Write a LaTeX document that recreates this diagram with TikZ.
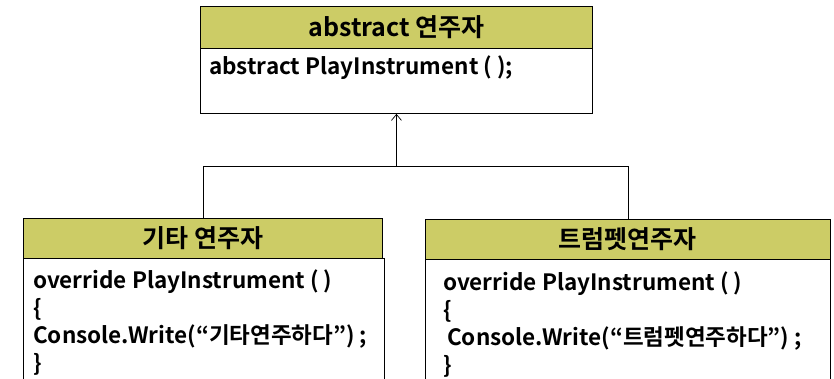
\documentclass[tikz,border=0pt]{standalone}
\usepackage{fontspec}
\setmainfont{Noto Sans CJK KR}[BoldFont={Noto Sans CJK KR Bold}]
\usetikzlibrary{arrows.meta}
\definecolor{band}{RGB}{204,204,102}
\tikzset{
  titlebox/.style={draw, line width=0.9pt, fill=band, anchor=north west, inner sep=0pt, font=\bfseries\fontsize{25}{28}\selectfont},
  framebox/.style={draw, line width=0.9pt, fill=white, anchor=north west, inner sep=0pt},
  code/.style={inner sep=0pt, align=left, font=\bfseries\fontsize{22.5}{27.5}\selectfont},
  link/.style={line width=0.7pt},
}
\begin{document}
\begin{tikzpicture}[x=1pt,y=-1pt]
\useasboundingbox (0,0) rectangle (834,379);
\clip (0,0) rectangle (834,379);
% top class
\node[titlebox, minimum width=392pt, minimum height=42pt] (topTitle) at (200,6) {abstract 연주자};
\node[framebox, minimum width=392pt, minimum height=65pt] (topBody) at (200,48) {};
\node[code, anchor=base west] (topCode) at (209,75) {abstract PlayInstrument ( );};
% left class
\node[titlebox, minimum width=359pt, minimum height=40pt] (leftTitle) at (23,218) {기타 연주자};
\node[framebox, minimum width=361pt, minimum height=140pt] (leftBody) at (23,258) {};
\node[code, anchor=north west] (leftCode) at (33,270) {override PlayInstrument ( )\\\{\\Console.Write(“기타연주하다”) ;\\\}};
% right class
\node[titlebox, minimum width=405pt, minimum height=40pt] (rightTitle) at (425,219) {트럼펫연주자};
\node[framebox, minimum width=405pt, minimum height=140pt] (rightBody) at (425,259) {};
\node[code, anchor=north west] (rightCode) at (443,272) {override PlayInstrument ( )\\\{\\\hspace*{4pt}Console.Write(“트럼펫연주하다”) ;\\\}};
% inheritance connector
\coordinate (jl) at (leftTitle.north |- 0,166);
\coordinate (jr) at (rightTitle.north |- 0,166);
\coordinate (jm) at (topBody.south |- 0,166);
\draw[link] (leftTitle.north) -- (jl) -- (jr) -- (rightTitle.north);
\draw[link, -{Straight Barb[length=6pt,width=10pt]}] (jm) -- (topBody.south);
\end{tikzpicture}
\end{document}
